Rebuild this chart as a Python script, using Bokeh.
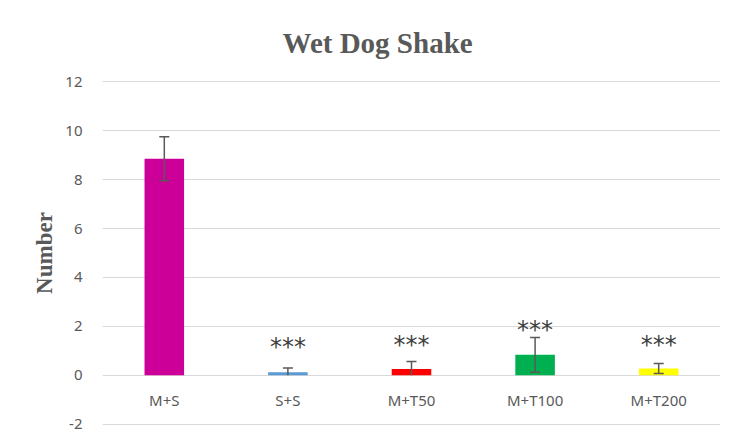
from bokeh.plotting import figure
from bokeh.models import ColumnDataSource, Whisker, TeeHead, FixedTicker
from bokeh.core.properties import value
from bokeh.embed import file_html
from bokeh.resources import INLINE

categories = ["M+S", "S+S", "M+T50", "M+T100", "M+T200"]
means = [8.85, 0.13, 0.26, 0.84, 0.28]
errors = [0.90, 0.17, 0.31, 0.71, 0.20]
colors = ["#CC0099", "#5B9BD5", "#FF0000", "#00B050", "#FFFF00"]
stars = ["", "***", "***", "***", "***"]
star_y = [0.0, 1.27, 1.35, 1.96, 1.35]
y_ticks = [-2, 0, 2, 4, 6, 8, 10, 12]

upper = [m + e for m, e in zip(means, errors)]
lower = [max(m - e, 0.0) for m, e in zip(means, errors)]
full = [m - e >= 0 for m, e in zip(means, errors)]

src = ColumnDataSource(dict(cat=categories, mean=means, color=colors))
src_full = ColumnDataSource(dict(cat=[c for c, f in zip(categories, full) if f],
                                 upper=[u for u, f in zip(upper, full) if f],
                                 lower=[l for l, f in zip(lower, full) if f]))
src_part = ColumnDataSource(dict(cat=[c for c, f in zip(categories, full) if not f],
                                 upper=[u for u, f in zip(upper, full) if not f],
                                 lower=[l for l, f in zip(lower, full) if not f]))
src_star = ColumnDataSource(dict(cat=[c for c, s in zip(categories, stars) if s],
                                 y=[y for y, s in zip(star_y, stars) if s],
                                 txt=[s for s in stars if s]))

GRAY = "#595959"

p = figure(x_range=categories, y_range=(-2.05, 12.05), width=730, height=442,
           output_backend="svg", toolbar_location=None,
           min_border_left=102, min_border_right=10, min_border_top=80, min_border_bottom=17,
           title="Wet Dog Shake")

p.title.align = "left"
p.title.offset = 180
p.title.standoff = 44
p.title.text_font = "Liberation Serif"
p.title.text_font_size = "29px"
p.title.text_font_style = "bold"
p.title.text_color = GRAY

p.vbar(x="cat", top="mean", bottom=0, width=0.32, fill_color="color", line_color=None, source=src)

wl = dict(line_color=GRAY, line_width=1.5)
p.add_layout(Whisker(base="cat", upper="upper", lower="lower", source=src_full, level="overlay",
                     upper_head=TeeHead(size=10, **wl), lower_head=TeeHead(size=10, **wl), **wl))
p.add_layout(Whisker(base="cat", upper="upper", lower="lower", source=src_part, level="overlay",
                     upper_head=TeeHead(size=10, **wl), lower_head=None, **wl))

p.text(x="cat", y="y", text="txt", source=src_star, text_align="center", text_baseline="middle",
       text_font=value("DejaVu Sans"), text_font_size="24px", text_color="#404040", y_offset=3)

p.text(x=categories, y=[0.0] * len(categories), text=categories, text_align="center",
       text_baseline="middle", y_offset=25, text_font=value("Noto Sans"),
       text_font_size="15px", text_color=GRAY)

p.xaxis.visible = False
p.xgrid.grid_line_color = None
p.ygrid.ticker = FixedTicker(ticks=y_ticks)
p.ygrid.grid_line_color = "#d9d9d9"
p.ygrid.grid_line_width = 1

ya = p.yaxis[0]
ya.ticker = FixedTicker(ticks=y_ticks)
ya.major_label_overrides = {t: str(t) for t in y_ticks}
ya.axis_line_color = None
ya.major_tick_line_color = None
ya.minor_tick_line_color = None
ya.major_label_standoff = 14
ya.major_label_text_font = "Noto Sans"
ya.major_label_text_font_size = "15px"
ya.major_label_text_color = GRAY
ya.axis_label = "Number"
ya.axis_label_text_font = "Liberation Serif"
ya.axis_label_text_font_size = "23px"
ya.axis_label_text_font_style = "bold"
ya.axis_label_text_color = GRAY
ya.axis_label_standoff = 5

p.outline_line_color = None
p.background_fill_color = "white"
p.border_fill_color = "white"

open("out.html", "w").write(file_html(p, INLINE))
